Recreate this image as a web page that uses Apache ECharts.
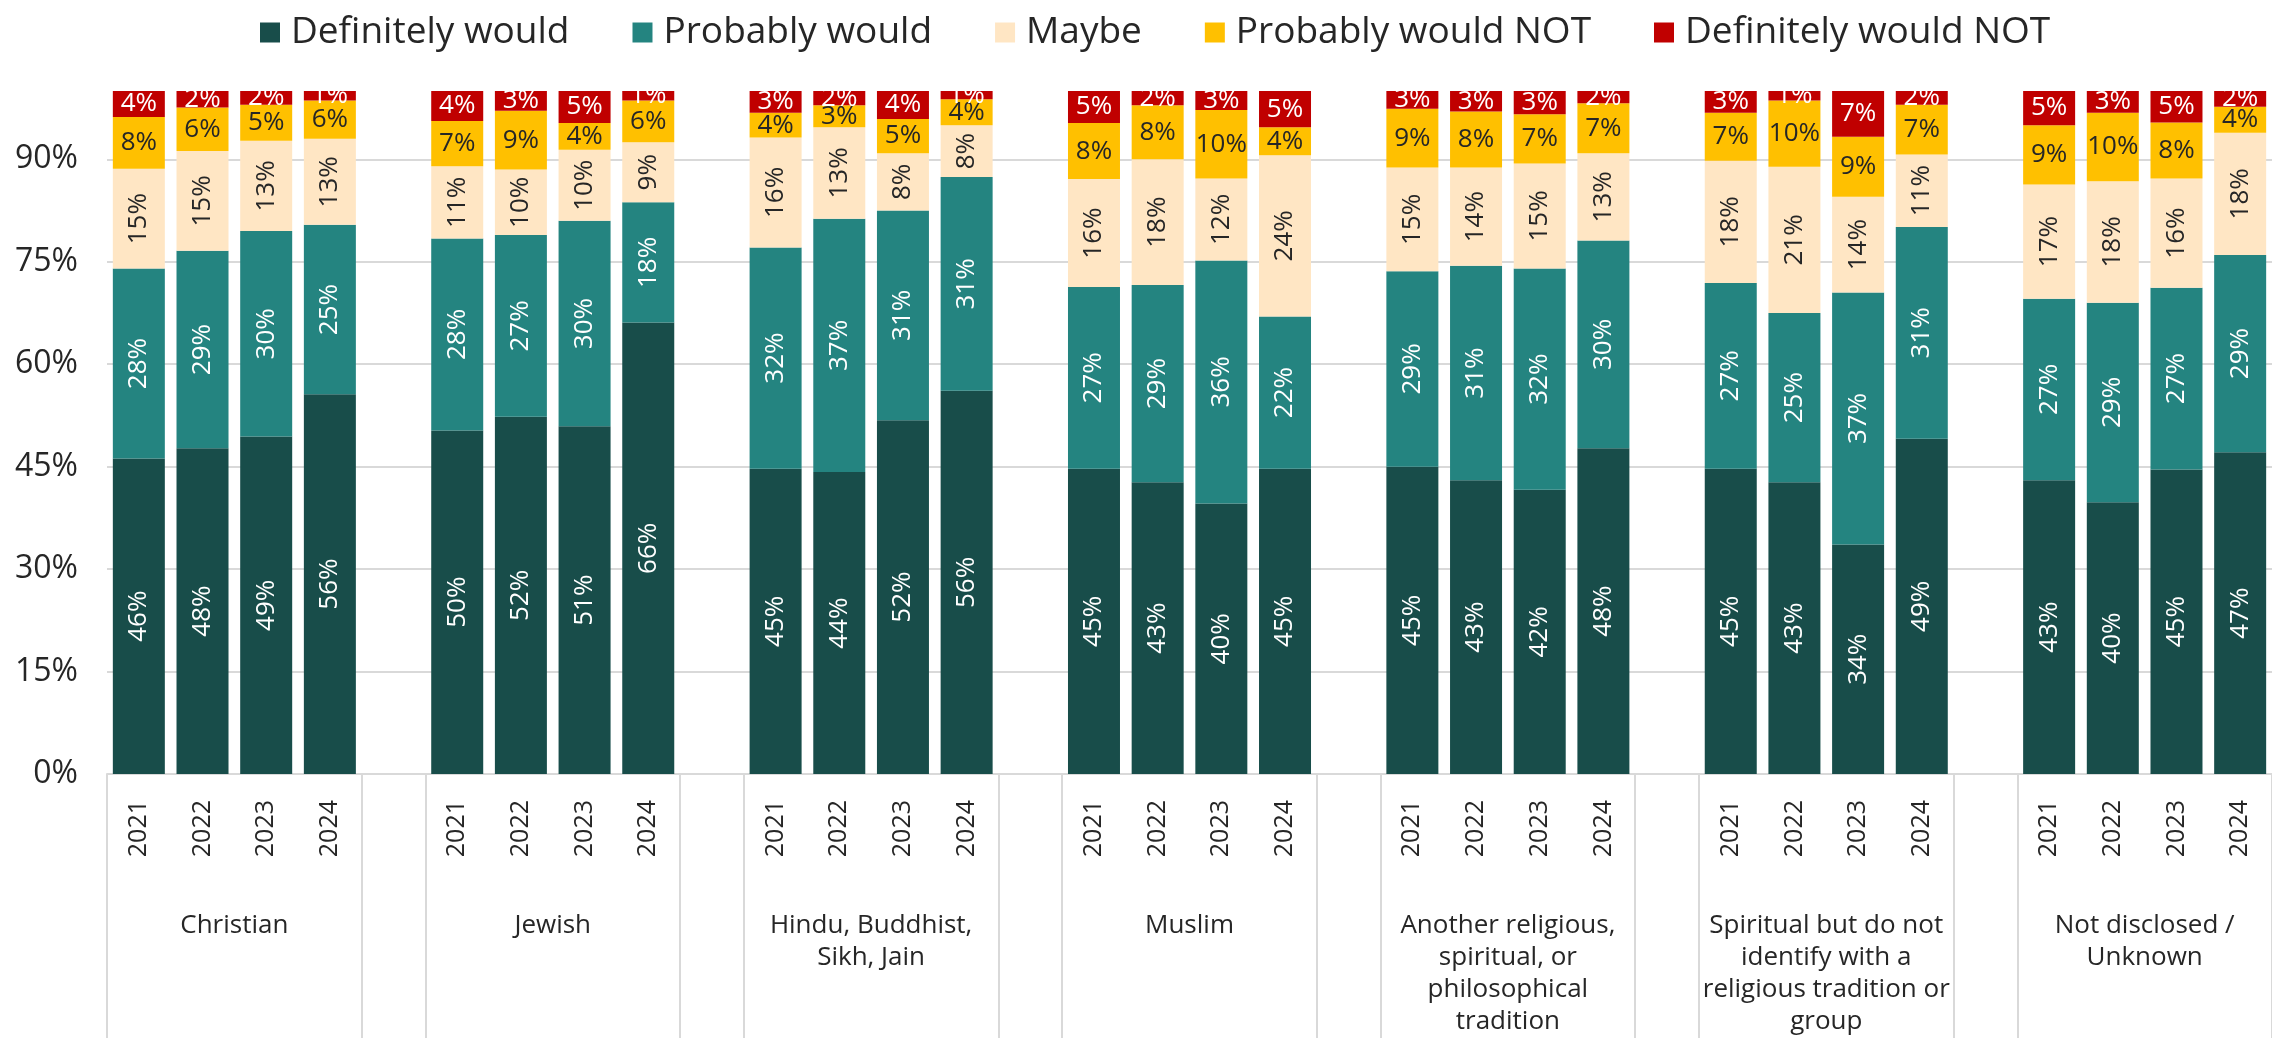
<!DOCTYPE html>
<html>
<head>
<meta charset="utf-8">
<script src="https://cdn.jsdelivr.net/npm/echarts@6/dist/echarts.min.js"></script>
<style>
  html, body { margin: 0; padding: 0; background: #fff; }
  #chart { width: 2272px; height: 1038px; }
</style>
</head>
<body>
<div id="chart"></div>
<script>
// categories
const groups = [
  'Christian',
  'Jewish',
  'Hindu, Buddhist,\nSikh, Jain',
  'Muslim',
  'Another religious,\nspiritual, or\nphilosophical\ntradition',
  'Spiritual but do not\nidentify with a\nreligious tradition or\ngroup',
  'Not disclosed /\nUnknown'
]
const years = ['2021', '2022', '2023', '2024']
const seriesNames = ['Definitely would', 'Probably would', 'Maybe', 'Probably would NOT', 'Definitely would NOT']
const colors = ['#184d4a', '#248480', '#ffe6c4', '#ffc000', '#c00000']
const labelColors = ['#fff', '#fff', '#262626', '#262626', '#fff']

// shares in %, 4 years per group, groups in order
const definitelyWould = [46.2, 47.7, 49.4, 55.6, 50.3, 52.3, 50.9, 66.1, 44.7, 44.2, 51.8, 56.1, 44.7, 42.7, 39.6, 44.7, 45.0, 43.0, 41.6, 47.7, 44.7, 42.7, 33.6, 49.1, 43.0, 39.8, 44.6, 47.1]
const probablyWould = [27.8, 28.9, 30.1, 24.8, 28.1, 26.6, 30.1, 17.6, 32.4, 37.1, 30.7, 31.3, 26.6, 28.9, 35.6, 22.3, 28.6, 31.4, 32.4, 30.4, 27.2, 24.8, 36.9, 31.0, 26.6, 29.2, 26.6, 28.9]
const maybe = [14.6, 14.6, 13.2, 12.6, 10.6, 9.6, 10.4, 8.8, 16.1, 13.4, 8.4, 7.6, 15.8, 18.4, 12.0, 23.6, 15.2, 14.4, 15.4, 12.8, 17.9, 21.4, 14.0, 10.6, 16.7, 17.8, 16.0, 17.9]
const probablyNot = [7.6, 6.4, 5.3, 5.6, 6.6, 8.6, 3.9, 6.1, 3.6, 3.2, 5.0, 3.8, 8.2, 7.9, 10.0, 4.1, 8.6, 8.2, 7.2, 7.3, 7.0, 9.7, 8.8, 7.3, 8.7, 10.0, 8.2, 3.8]
const definitelyNot = [3.8, 2.4, 2.0, 1.4, 4.4, 2.9, 4.7, 1.4, 3.2, 2.1, 4.1, 1.2, 4.7, 2.1, 2.8, 5.3, 2.6, 3.0, 3.4, 1.8, 3.2, 1.4, 6.7, 2.0, 5.0, 3.2, 4.6, 2.3]

const yTicks = { min: 0, max: 100, interval: 15 }

// insert an empty slot between groups (like the blank rows in the sheet)
function toSlots(arr, blank) {
  const out = []
  groups.forEach((g, gi) => {
    if (gi > 0) out.push(blank)
    years.forEach((y, yi) => out.push(arr === null ? y : arr[gi * years.length + yi]))
  })
  return out
}
const slotLabels = toSlots(null, '')
const slotCount = slotLabels.length
const step = years.length + 1

// group boxes below the axis, in slot units
const boxLines = []
const groupCenters = []
groups.forEach((g, gi) => {
  boxLines.push(gi * step, gi * step + years.length)
  groupCenters.push(gi * step + years.length / 2)
})

const allData = [definitelyWould, probablyWould, maybe, probablyNot, definitelyNot]

const chart = echarts.init(document.getElementById('chart'))
const option = {
  animation: false,
  textStyle: { fontFamily: 'Open Sans' },
  color: colors,
  legend: {
    data: seriesNames,
    left: 255,
    top: 9,
    icon: 'rect',
    itemWidth: 20,
    itemHeight: 20,
    itemGap: 63,
    textStyle: { fontSize: 37, color: '#262626', padding: [0, 0, 0, 6] }
  },
  grid: { left: 107, top: 91, width: 2176, height: 684 },
  xAxis: [
    {
      type: 'category',
      data: slotLabels,
      axisLine: { lineStyle: { color: '#d9d9d9', width: 2 } },
      axisTick: { show: false },
      axisLabel: { interval: 0, rotate: 90, fontSize: 25, margin: 26, color: '#262626' }
    },
    {
      // group names + separator lines
      type: 'value',
      position: 'bottom',
      min: 0,
      max: slotCount,
      axisLine: { show: false },
      splitLine: { show: false },
      axisTick: {
        show: true,
        customValues: boxLines,
        length: 275,
        lineStyle: { color: '#d9d9d9', width: 2 }
      },
      axisLabel: {
        customValues: groupCenters,
        formatter: v => groups[groupCenters.indexOf(v)],
        fontSize: 26,
        lineHeight: 32,
        margin: 136,
        color: '#262626'
      }
    }
  ],
  yAxis: {
    type: 'value',
    min: yTicks.min,
    max: yTicks.max,
    interval: yTicks.interval,
    axisLine: { show: false },
    axisTick: { show: false },
    axisLabel: { formatter: '{value}%', fontSize: 32, margin: 29, color: '#262626', showMaxLabel: false },
    splitLine: { showMaxLine: false, lineStyle: { color: '#d9d9d9', width: 2 } }
  },
  series: allData.map((arr, i) => ({
    name: seriesNames[i],
    type: 'bar',
    stack: 'total',
    barWidth: 52,
    data: toSlots(arr, '-'),
    label: {
      show: true,
      position: 'inside',
      rotate: i < 3 ? 90 : 0,
      fontSize: 26,
      color: labelColors[i],
      formatter: p => Math.round(p.value) + '%'
    }
  }))
}
chart.setOption(option)
</script>
</body>
</html>
